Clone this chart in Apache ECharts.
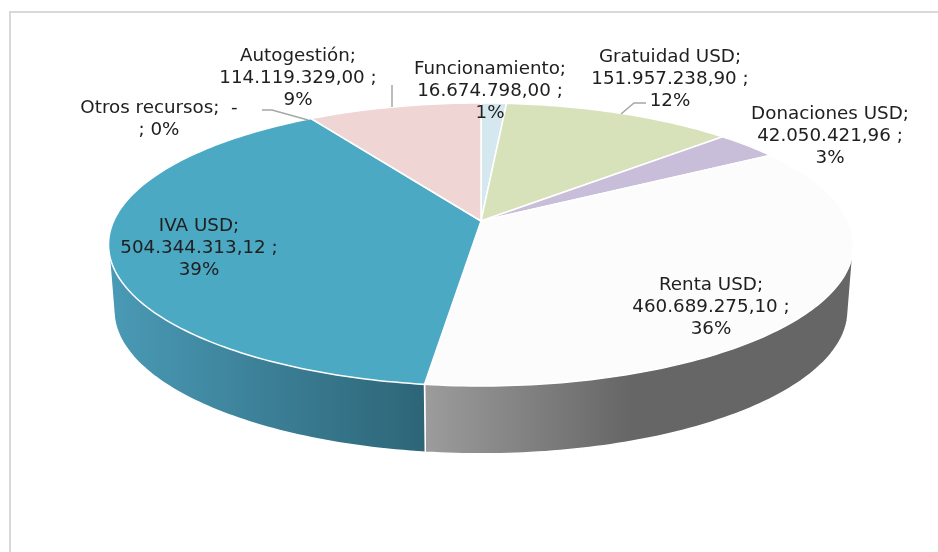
<!DOCTYPE html>
<html>
<head>
<meta charset="utf-8">
<style>html,body{margin:0;padding:0;background:#fff}#c{width:938px;height:552px}</style>
<script src="https://cdn.jsdelivr.net/npm/echarts@6/dist/echarts.min.js"></script>
</head>
<body>
<div id="c"></div>
<script>
// ---- data, in drawing order (clockwise from 12 o'clock)
const categories = ['Funcionamiento', 'Gratuidad USD', 'Donaciones USD', 'Renta USD', 'IVA USD', 'Otros recursos', 'Autogestión'];
const values = [16674798.00, 151957238.90, 42050421.96, 460689275.10, 504344313.12, 0, 114119329.00];
const valueLabels = ['16.674.798,00', '151.957.238,90', '42.050.421,96', '460.689.275,10', '504.344.313,12', '-', '114.119.329,00'];
const percentLabels = ['1%', '12%', '3%', '36%', '39%', '0%', '9%'];

// ---- styles and layout
const topColors = ['#d6e8ef', '#d7e2bb', '#c9bed9', '#fcfcfc', '#4ba9c4', '#bcd9e4', '#efd6d5'];
const wallStops = [
  [[0, '#a5c2cc'], [1, '#a5c2cc']],
  [[0, '#a7b28c'], [1, '#a7b28c']],
  [[0, '#9a8fac'], [1, '#9a8fac']],
  [[0, '#9c9c9c'], [0.48, '#666666'], [1, '#666666']],
  [[0, '#4a9ab6'], [1, '#2d6577']],
  [[0, '#4a9ab6'], [1, '#4a9ab6']],
  [[0, '#b9a4a3'], [1, '#b9a4a3']]
];
const wallGradientX = [[481, 520], [500, 730], [720, 780], [425, 853], [108, 425], [300, 320], [310, 481]];
const labelCenters = [[490, 91], [670, 79], [830, 136], [711, 307], [199, 248], [159, 119], [298, 78]];
const labelTexts = categories.map((c, i) => {
  if (valueLabels[i] === '-') return c + ';  -\n; ' + percentLabels[i];
  return c + ';\n' + valueLabels[i] + ' ;\n' + percentLabels[i];
});
const leaderLines = [
  [[392, 85], [392, 107]],
  [[262, 110], [272, 110], [308, 120]],
  [[646, 103], [634, 103], [621, 114]]
];
const FONT = '18.3px "DejaVu Sans"';

// perspective disc: rim point for a clockwise angle from the top
const K = 0.166;
const topRing = {cx: 481, cy: 221, rx: 367.3, b: 137.6};
const baseRing = {cx: 481, cy: 286.6, rx: 362, b: 139.5};
function project(ring, theta) {
  const X = Math.sin(theta), Y = Math.cos(theta), w = 1 / (1 + K * Y);
  return [ring.cx + ring.rx * X * w, ring.cy - ring.b * Y * w];
}
function arc(ring, a0, a1) {
  const n = Math.max(1, Math.ceil((a1 - a0) / (Math.PI / 180))), pts = [];
  for (let i = 0; i <= n; i++) pts.push(project(ring, a0 + (a1 - a0) * i / n));
  return pts;
}
function hull(points) {
  const p = points.slice().sort((a, b) => a[0] - b[0] || a[1] - b[1]);
  const cross = (o, a, b) => (a[0] - o[0]) * (b[1] - o[1]) - (a[1] - o[1]) * (b[0] - o[0]);
  const lower = [], upper = [];
  p.forEach(q => {
    while (lower.length > 1 && cross(lower[lower.length - 2], lower[lower.length - 1], q) <= 0) lower.pop();
    lower.push(q);
  });
  p.slice().reverse().forEach(q => {
    while (upper.length > 1 && cross(upper[upper.length - 2], upper[upper.length - 1], q) <= 0) upper.pop();
    upper.push(q);
  });
  return lower.slice(0, -1).concat(upper.slice(0, -1));
}
const total = values.reduce((s, v) => s + v, 0);
function sliceAngles(i) {
  let before = 0;
  for (let j = 0; j < i; j++) before += values[j];
  return [before / total * 2 * Math.PI, (before + values[i]) / total * 2 * Math.PI];
}

const chartData = values.map((v, i) => ({value: [i, v], name: categories[i]}));

const chart = echarts.init(document.getElementById('c'), null, {renderer: 'canvas'});
chart.setOption({
  backgroundColor: '#ffffff',
  animation: false,
  tooltip: {show: false},
  graphic: [
    {type: 'line', z: 0, shape: {x1: 10, y1: 12, x2: 938, y2: 12}, style: {stroke: '#d9d9d9', lineWidth: 2}},
    {type: 'line', z: 0, shape: {x1: 10, y1: 11, x2: 10, y2: 552}, style: {stroke: '#d9d9d9', lineWidth: 2}}
  ],
  series: [
    { // side walls
      type: 'custom', coordinateSystem: 'none', silent: true, z: 1, data: chartData,
      renderItem(params, api) {
        const i = api.value(0), [a0, a1] = sliceAngles(i);
        if (values[i] === 0) return {type: 'group', children: []};
        const pts = hull(arc(topRing, a0, a1).concat(arc(baseRing, a0, a1)));
        const gx = wallGradientX[i];
        return {
          type: 'polygon', shape: {points: pts},
          style: {
            fill: new echarts.graphic.LinearGradient(gx[0], 0, gx[1], 0,
              wallStops[i].map(s => ({offset: s[0], color: s[1]})), true),
            stroke: '#ffffff', lineWidth: 1.5
          }
        };
      }
    },
    { // top faces
      type: 'custom', coordinateSystem: 'none', silent: true, z: 2, data: chartData,
      renderItem(params, api) {
        const i = api.value(0), [a0, a1] = sliceAngles(i);
        if (values[i] === 0) return {type: 'group', children: []};
        const pts = [[topRing.cx, topRing.cy]].concat(arc(topRing, a0, a1));
        return {
          type: 'polygon', shape: {points: pts},
          style: {fill: topColors[i], stroke: '#ffffff', lineWidth: 1.5}
        };
      }
    },
    { // leader lines and labels
      type: 'custom', coordinateSystem: 'none', silent: true, z: 3, data: chartData,
      renderItem(params, api) {
        const i = api.value(0), c = labelCenters[i];
        const children = [{
          type: 'text',
          style: {
            text: labelTexts[i], x: c[0], y: c[1], align: 'center', verticalAlign: 'middle',
            font: FONT, lineHeight: 22, fill: '#202020'
          }
        }];
        if (i === 0) leaderLines.forEach(l => children.push({
          type: 'polyline', shape: {points: l},
          style: {stroke: '#a6a6a6', lineWidth: 1.5, fill: 'none'}
        }));
        return {type: 'group', children};
      }
    }
  ]
});
</script>
</body>
</html>
